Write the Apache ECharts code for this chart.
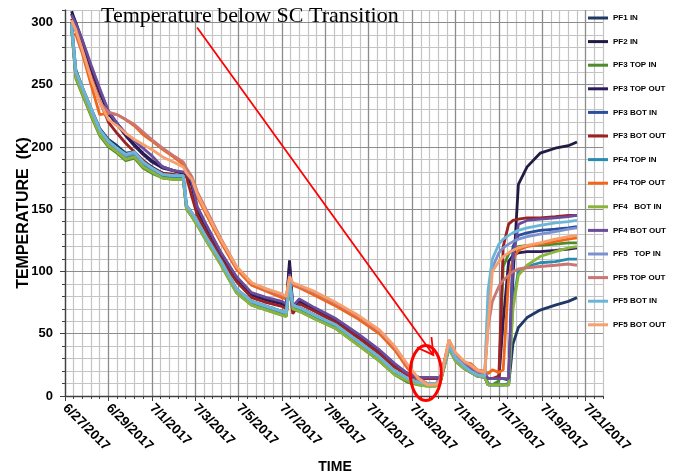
<!DOCTYPE html>
<html>
<head>
<meta charset="utf-8">
<script src="https://cdn.jsdelivr.net/npm/echarts@6/dist/echarts.min.js"></script>
<style>
html,body{margin:0;padding:0;background:#fff}
#chart{width:673px;height:476px}
</style>
</head>
<body>
<div id="chart"></div>
<script>
// x values are days after 6/27/2017 00:00
const days=[0.3,0.5,0.8,1.2,1.6,2.0,2.4,2.8,3.2,3.6,4.0,4.5,5.0,5.45,5.6,5.85,6.1,6.5,7.2,7.9,8.6,9.3,10.0,10.2,10.35,10.5,10.8,11.5,12.5,13.5,14.5,15.2,15.8,16.3,16.7,17.1,17.3,17.7,18.0,18.4,18.7,19.0,19.35,19.5,19.7,20.0,20.2,20.45,20.65,20.9,21.3,21.9,22.6,23.2,23.6];

const pf1In=[300,262,248,231,215,206,201,195,196,189,184,179,177,177,
 153,147,140,128,108,86,76,72,68,67,
 90,73,71,65,57,44,31,20,14,12,10,10,
 12,40,30,23,20,17,16,
 10,9,9,9,9,42,55,63,69,73,76,79];
const pf2In=[309,300,285,264,245,228,219,210,202,195,189,184,181,179,
 178,170,150,137,114,95,82,78,75,73,
 109,72,77,70,61,49,36,25,18,15,15,15,
 14,42,31,25,21,18,17,
 14,14,14,14,13,95,170,184,195,199,201,204];
const pf3TopIn=[295,255,242,225,209,200,195,189,191,183,179,175,174,174,
 150,144,137,125,105,83,73,69,65,64,
 93,70,68,62,54,41,28,17,11,9,8,8,
 11,38,28,22,19,16,15,
 9,9,12,104,114,118,120,121,121,122,123,123];
const pf3TopOut=[307,299,284,263,244,227,218,209,201,194,188,183,181,179,
 178,169,149,136,113,94,81,77,74,72,
 105,71,76,69,60,48,35,24,17,15,15,14,
 13,41,31,24,21,18,17,
 14,14,14,60,108,113,115,116,116,117,118,119];
const pf3BotIn=[298,257,244,227,211,202,197,191,193,185,181,176,175,175,
 151,145,138,126,106,84,74,70,66,65,
 91,71,69,63,55,42,29,18,12,10,9,9,
 12,39,29,22,19,16,15,
 9,9,9,9,10,120,129,131,133,134,135,136];
const pf3BotOut=[303,294,278,257,237,220,211,203,196,189,183,179,178,177,
 176,160,145,132,110,92,79,75,72,70,
 88,66,74,68,59,47,34,23,17,14,14,14,
 13,40,30,24,20,18,17,
 14,14,16,120,138,141,142,143,143,144,145,145];
const pf4TopIn=[296,258,245,228,212,203,198,192,194,186,182,177,176,176,
 152,146,139,127,107,85,75,71,67,66,
 95,72,70,64,56,43,30,19,13,11,9,9,
 12,40,30,23,20,17,16,
 9,9,9,9,9,75,100,104,107,108,110,110];
const pf4TopOut=[291,290,275,250,226,227,226,222,217,210,205,198,192,186,
 181,173,160,146,123,102,89,84,79,78,
 94,89,87,81,72,62,50,37,22,13,10,10,
 13,45,34,27,26,21,20,
 18,21,19,21,95,110,117,120,122,124,126,127];
const pf4BotIn=[296,256,243,226,210,201,196,190,192,184,180,175,174,174,
 150,144,137,125,105,83,73,69,65,64,
 90,70,68,62,54,41,28,17,12,9,8,8,
 11,38,28,22,19,16,15,
 9,9,9,9,9,70,97,105,112,116,119,120];
const pf4BotOut=[306,299,286,266,247,229,219,211,205,199,193,184,181,180,
 179,172,152,138,115,96,83,79,76,74,
 98,72,78,71,62,50,37,26,18,15,15,15,
 14,42,32,25,22,19,18,
 14,14,14,14,14,110,138,141,142,143,144,145];
const pf5TopIn=[297,260,247,230,214,204,199,193,195,187,183,178,177,177,
 153,147,140,128,108,86,76,72,68,67,
 92,73,71,65,57,44,31,20,14,11,10,10,
 13,40,30,24,20,17,16,
 75,103,115,119,122,124,126,128,130,132,134,135];
const pf5TopOut=[300,293,277,255,236,228,226,222,218,212,206,199,193,188,
 183,176,164,150,126,104,91,85,81,80,
 95,90,88,83,74,64,52,39,24,14,10,10,
 13,44,34,27,24,20,18,
 55,76,88,93,97,100,102,103,104,105,106,105];
const pf5BotIn=[299,261,248,231,214,205,199,194,196,188,183,178,177,177,
 153,147,140,128,108,86,76,72,68,67,
 93,73,71,65,57,44,31,20,14,11,10,10,
 13,41,31,24,20,17,16,
 85,110,122,126,129,131,133,135,137,139,140,141];
const pf5BotOut=[302,294,278,255,236,222,217,211,206,202,198,192,188,184,
 179,174,162,148,125,104,91,86,82,80,
 96,91,89,84,75,65,53,40,25,14,9,9,
 12,45,35,28,25,21,19,
 55,100,108,112,115,117,119,121,123,126,128,129];

const names=['PF1 IN','PF2 IN','PF3 TOP IN','PF3 TOP OUT','PF3 BOT IN','PF3 BOT OUT','PF4 TOP IN','PF4 TOP OUT','PF4   BOT IN','PF4 BOT OUT','PF5   TOP IN','PF5 TOP OUT','PF5 BOT IN','PF5 BOT OUT'];
const values=[pf1In,pf2In,pf3TopIn,pf3TopOut,pf3BotIn,pf3BotOut,pf4TopIn,pf4TopOut,pf4BotIn,pf4BotOut,pf5TopIn,pf5TopOut,pf5BotIn,pf5BotOut];
const colors=['#1f3864','#221a42','#4f8a2b','#2d1b5a','#2a4d9e','#9b2323','#2a8bb0','#f0661a','#8ab53a','#6a4c9c','#7b92cf','#cb7673','#6bb6d6','#f7a06d'];

// annotation anchors, in [day, K]
const noteText='Temperature below SC Transition';
const arrowFrom=[6.09,296];
const arrowTo=[16.98,33];
const ringAt=[16.63,18.5];

const bold='bold';
const sans="'Liberation Sans', Arial, sans-serif";

function dateLabel(v){
  const t=new Date(Date.UTC(2017,5,27)+Math.round(v*86400000));
  return (t.getUTCMonth()+1)+'/'+t.getUTCDate()+'/'+t.getUTCFullYear();
}

const chart=echarts.init(document.getElementById('chart'));

const series=names.map((n,i)=>({
  name:n,
  type:'line',
  xAxisIndex:0,
  yAxisIndex:0,
  data:days.map((d,j)=>[d,values[i][j]]),
  symbol:'none',
  lineStyle:{width:2.8,color:colors[i]},
  itemStyle:{color:colors[i]},
  z:3
}));

chart.setOption({
  animation:false,
  backgroundColor:'#fff',
  grid:{left:65,right:70,top:10,bottom:80},
  legend:{
    data:names,
    orient:'vertical',
    left:588,
    top:12,
    padding:0,
    icon:'rect',
    itemWidth:20,
    itemHeight:3,
    itemGap:11.6,
    textStyle:{fontFamily:sans,fontWeight:bold,fontSize:8,lineHeight:12,color:'#000'}
  },
  xAxis:[
    {
      type:'value',min:0,max:24.8,interval:2,position:'bottom',z:1,
      axisLine:{show:true,lineStyle:{color:'#404040',width:1.3}},
      axisTick:{show:true,length:5,lineStyle:{color:'#404040'}},
      axisLabel:{rotate:-45,margin:10,formatter:dateLabel,showMaxLabel:false,
        fontFamily:sans,fontWeight:bold,fontSize:13.5,color:'#000'},
      splitLine:{show:true,showMaxLine:false,lineStyle:{color:'#8c8c8c',width:1.2}}
    },
    {
      type:'value',min:0,max:24.8,interval:0.4,position:'bottom',z:0,
      axisLine:{show:false},
      axisTick:{show:true,length:3,lineStyle:{color:'#404040'}},
      axisLabel:{show:false},
      splitLine:{show:true,lineStyle:{color:'#c4c4c4',width:1.2}}
    }
  ],
  yAxis:[
    {
      type:'value',min:0,max:310,interval:50,position:'left',z:1,
      axisLine:{show:true,lineStyle:{color:'#404040',width:1.3}},
      axisTick:{show:true,length:5,lineStyle:{color:'#404040'}},
      axisLabel:{margin:12,showMaxLabel:false,fontFamily:sans,fontWeight:bold,fontSize:13,color:'#000'},
      splitLine:{show:true,showMaxLine:false,lineStyle:{color:'#8c8c8c',width:1.2}}
    },
    {
      type:'value',min:0,max:310,interval:10,position:'left',z:0,
      axisLine:{show:false},
      axisTick:{show:true,length:3,lineStyle:{color:'#404040'}},
      axisLabel:{show:false},
      splitLine:{show:true,lineStyle:{color:'#c4c4c4',width:1.2}}
    }
  ],
  series:series
});

const toPx=p=>chart.convertToPixel({xAxisIndex:0,yAxisIndex:0},p);
const a0=toPx(arrowFrom);
const a1=toPx(arrowTo);
const ring=toPx(ringAt);
const back=Math.atan2(a0[1]-a1[1],a0[0]-a1[0]);
const barb=18,spread=0.52;
const b1=[a1[0]+barb*Math.cos(back+spread),a1[1]+barb*Math.sin(back+spread)];
const b2=[a1[0]+barb*Math.cos(back-spread),a1[1]+barb*Math.sin(back-spread)];

chart.setOption({
  graphic:[
    {type:'text',x:101,y:16,z:100,style:{text:noteText,fontFamily:"'Liberation Serif', 'Times New Roman', serif",fontSize:22,fill:'#000',align:'left',verticalAlign:'middle'}},
    {type:'line',z:100,shape:{x1:a0[0],y1:a0[1],x2:a1[0],y2:a1[1]},style:{stroke:'#ff0000',lineWidth:1.8}},
    {type:'polyline',z:100,shape:{points:[b1,a1,b2]},style:{stroke:'#ff0000',lineWidth:1.8,fill:null}},
    {type:'ellipse',z:100,shape:{cx:ring[0],cy:ring[1],rx:15.5,ry:27.5},style:{stroke:'#ff0000',lineWidth:3,fill:null}},
    {type:'text',x:24,y:213,rotation:Math.PI/2,z:100,style:{text:'TEMPERATURE  (K)',fontFamily:sans,fontWeight:bold,fontSize:16,fill:'#000',align:'center',verticalAlign:'middle'}},
    {type:'text',x:335,y:467,z:100,style:{text:'TIME',fontFamily:sans,fontWeight:bold,fontSize:14,fill:'#000',align:'center',verticalAlign:'middle'}}
  ]
});
</script>
</body>
</html>
